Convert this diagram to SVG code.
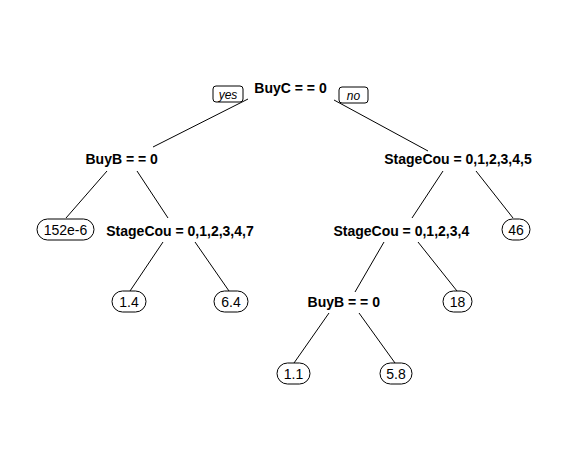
<svg xmlns="http://www.w3.org/2000/svg" width="574" height="462" viewBox="0 0 574 462">
<style>
.lbl{font-family:"Liberation Sans",Arial,sans-serif;font-size:14px;font-weight:bold;fill:#000;text-anchor:middle}
.leaf rect{fill:#fff;stroke:#000;stroke-width:1}
.leaf text{font-family:"Liberation Sans",Arial,sans-serif;font-size:14px;fill:#000;text-anchor:middle}
.yn rect{fill:#fff;stroke:#000;stroke-width:1}
.yn text{font-family:"Liberation Sans",Arial,sans-serif;font-size:12px;font-style:italic;fill:#000;text-anchor:middle}
.edges line{stroke:#000;stroke-width:1}
</style>
<rect width="574" height="462" fill="#fff"/>
<g class="edges">
<line x1="248" y1="99" x2="153" y2="147"/>
<line x1="334" y1="100" x2="428" y2="151"/>
<line x1="107" y1="171" x2="66" y2="218"/>
<line x1="137" y1="171" x2="168" y2="218"/>
<line x1="163" y1="242" x2="130" y2="291"/>
<line x1="195" y1="242" x2="229" y2="291"/>
<line x1="443" y1="171" x2="412" y2="218"/>
<line x1="476" y1="171" x2="513" y2="218"/>
<line x1="384" y1="242" x2="355" y2="292"/>
<line x1="418" y1="242" x2="457" y2="291"/>
<line x1="329" y1="313" x2="294" y2="363"/>
<line x1="359" y1="313" x2="395" y2="363"/>
</g>
<g id="yes" class="yn"><rect x="213" y="86" width="30" height="16" rx="3"/><text x="228" y="98.5">yes</text></g>
<g id="no" class="yn"><rect x="339" y="87" width="29" height="16" rx="3"/><text x="353.5" y="99.5">no</text></g>
<g id="n1"><text class="lbl" x="290.5" y="93">BuyC = = 0</text></g>
<g id="n2"><text class="lbl" x="121.7" y="164">BuyB = = 0</text></g>
<g id="n3"><text class="lbl" x="458" y="164">StageCou = 0,1,2,3,4,5</text></g>
<g id="n4" class="leaf"><rect x="37" y="219" width="57" height="21" rx="10.5"/><text x="65.5" y="234.5">152e-6</text></g>
<g id="n5"><text class="lbl" x="180" y="236">StageCou = 0,1,2,3,4,7</text></g>
<g id="n6"><text class="lbl" x="401.3" y="236">StageCou = 0,1,2,3,4</text></g>
<g id="n7" class="leaf"><rect x="502" y="219" width="28" height="21" rx="10.5"/><text x="516" y="234.5">46</text></g>
<g id="n8" class="leaf"><rect x="112" y="291" width="34" height="21" rx="10.5"/><text x="129" y="306.5">1.4</text></g>
<g id="n9" class="leaf"><rect x="214" y="291" width="34" height="21" rx="10.5"/><text x="231" y="306.5">6.4</text></g>
<g id="n10"><text class="lbl" x="343.8" y="307">BuyB = = 0</text></g>
<g id="n11" class="leaf"><rect x="443" y="291" width="29" height="21" rx="10.5"/><text x="457.5" y="306.5">18</text></g>
<g id="n12" class="leaf"><rect x="277" y="363" width="33" height="21" rx="10.5"/><text x="293.5" y="378.5">1.1</text></g>
<g id="n13" class="leaf"><rect x="380" y="363" width="32" height="21" rx="10.5"/><text x="396" y="378.5">5.8</text></g>
</svg>
